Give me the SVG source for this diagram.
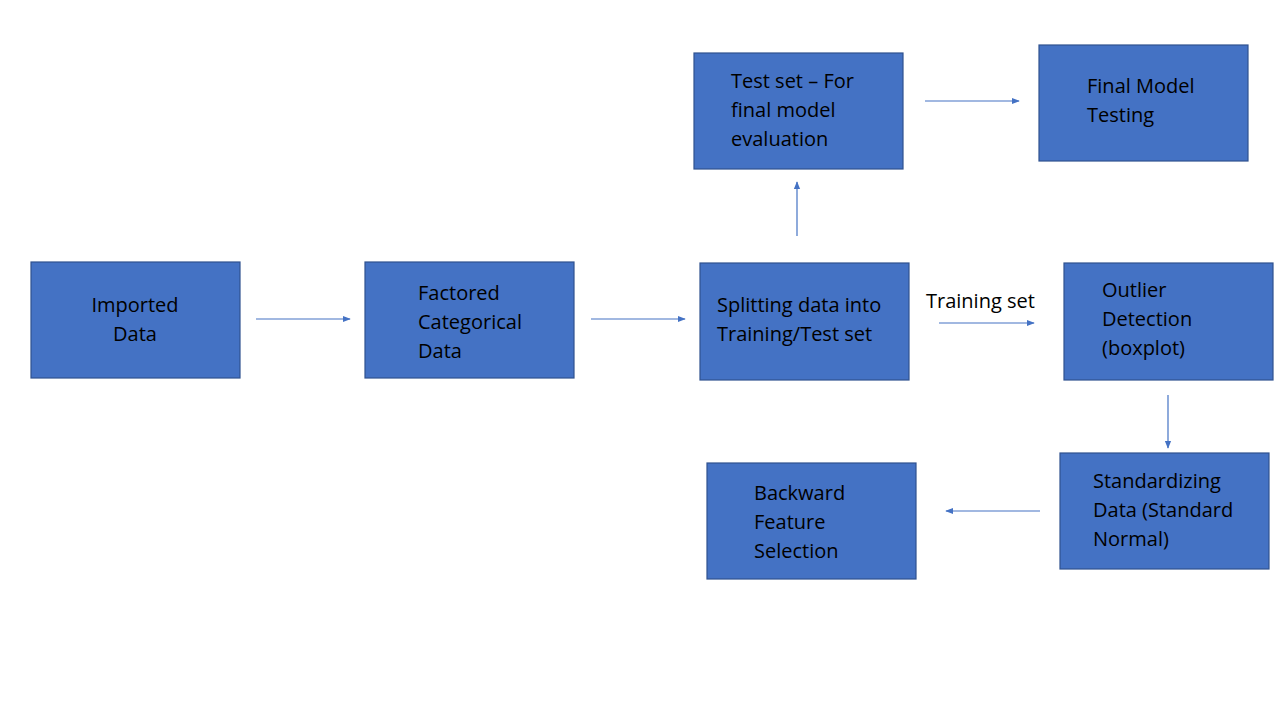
<svg xmlns="http://www.w3.org/2000/svg" width="1280" height="720" viewBox="0 0 1280 720">
<style>
.box{fill:#4472C4;stroke:#2F528F;stroke-width:1.2}
.t{font-family:"Open Sans","Liberation Sans",sans-serif;font-size:20px;fill:#000}
.c{stroke:#4472C4;stroke-width:1.2;fill:none;marker-end:url(#ah)}
</style>
<defs>
<marker id="ah" viewBox="0 0 10 10" refX="9" refY="5" markerWidth="8" markerHeight="8" markerUnits="userSpaceOnUse" orient="auto">
<path d="M0,1 L10,5 L0,9 Z" fill="#4472C4"/>
</marker>
</defs>
<rect width="1280" height="720" fill="#fff"/>
<g id="connectors">
<line class="c" x1="256" y1="319" x2="350" y2="319"/>
<line class="c" x1="591" y1="319" x2="685" y2="319"/>
<line class="c" x1="797" y1="236" x2="797" y2="182"/>
<line class="c" x1="925" y1="101" x2="1019" y2="101"/>
<line class="c" x1="939" y1="323" x2="1034" y2="323"/>
<line class="c" x1="1168" y1="395" x2="1168" y2="448"/>
<line class="c" x1="1040" y1="511" x2="946" y2="511"/>
<text class="t" x="926" y="308">Training set</text>
</g>
<g id="imported">
<rect class="box" x="31" y="262" width="209" height="116"/>
<text class="t" text-anchor="middle" x="135" y="312">Imported</text>
<text class="t" text-anchor="middle" x="135" y="341">Data</text>
</g>
<g id="factored">
<rect class="box" x="365" y="262" width="209" height="116"/>
<text class="t" x="418" y="300">Factored</text>
<text class="t" x="418" y="329">Categorical</text>
<text class="t" x="418" y="358">Data</text>
</g>
<g id="splitting">
<rect class="box" x="700" y="263" width="209" height="117"/>
<text class="t" x="717" y="312">Splitting data into</text>
<text class="t" x="717" y="341">Training/Test set</text>
</g>
<g id="testset">
<rect class="box" x="694" y="53" width="209" height="116"/>
<text class="t" x="731" y="88">Test set – For</text>
<text class="t" x="731" y="117">final model</text>
<text class="t" x="731" y="146">evaluation</text>
</g>
<g id="finalmodel">
<rect class="box" x="1039" y="45" width="209" height="116"/>
<text class="t" x="1087" y="93">Final Model</text>
<text class="t" x="1087" y="122">Testing</text>
</g>
<g id="outlier">
<rect class="box" x="1064" y="263" width="209" height="117"/>
<text class="t" x="1102" y="297">Outlier</text>
<text class="t" x="1102" y="326">Detection</text>
<text class="t" x="1102" y="355">(boxplot)</text>
</g>
<g id="standardizing">
<rect class="box" x="1060" y="453" width="209" height="116"/>
<text class="t" x="1093" y="488">Standardizing</text>
<text class="t" x="1093" y="517">Data (Standard</text>
<text class="t" x="1093" y="546">Normal)</text>
</g>
<g id="backward">
<rect class="box" x="707" y="463" width="209" height="116"/>
<text class="t" x="754" y="500">Backward</text>
<text class="t" x="754" y="529">Feature</text>
<text class="t" x="754" y="558">Selection</text>
</g>
</svg>
